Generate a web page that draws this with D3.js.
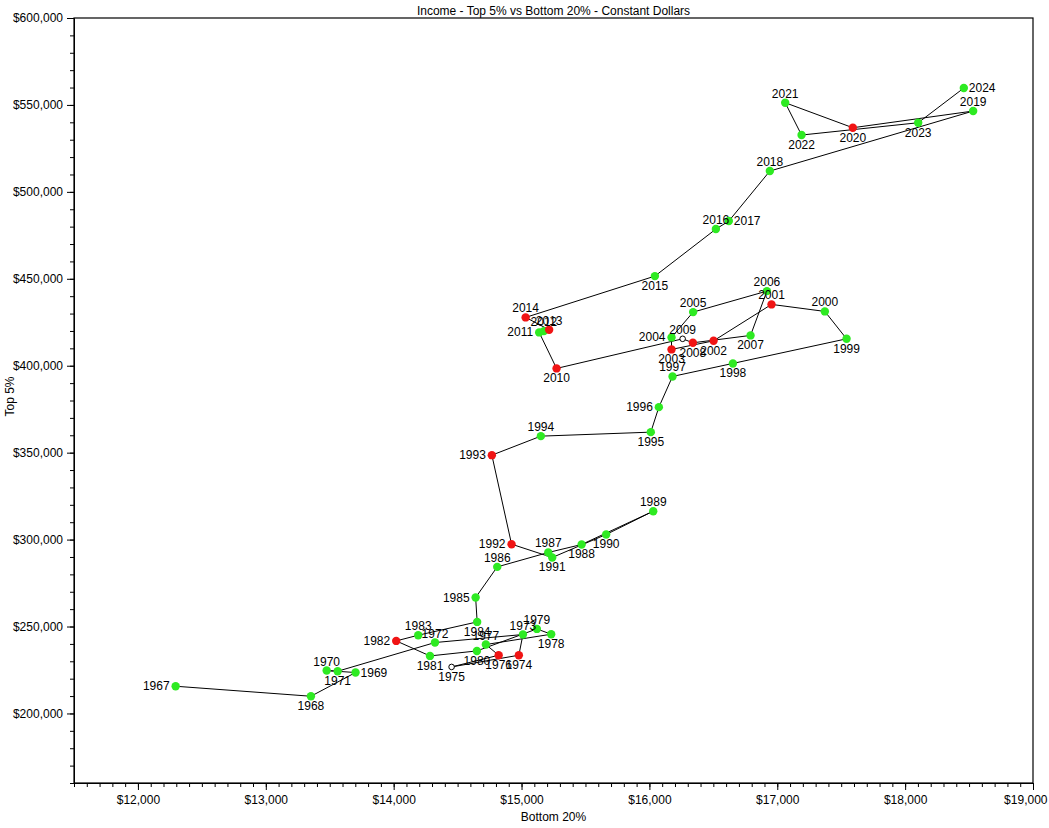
<!DOCTYPE html>
<html lang="en">
<head>
    <meta charset="UTF-8">
    <title>Income - Top 5% vs Bottom 20%</title>
    <script src="https://d3js.org/d3.v7.min.js"></script>
    <style>
        body {
            margin: 0;
            background: #fff;
            font-family: "Liberation Sans", Arial, Helvetica, sans-serif;
        }
        svg text {
            font-family: "Liberation Sans", Arial, Helvetica, sans-serif;
            fill: #000;
        }
        .axis path, .axis line {
            stroke: #000;
        }
    </style>
</head>
<body>
<svg width="1049" height="828"></svg>

<script>
    // Data
    const years = d3.range(1967, 2025);

    const bottom20 = [
        12295, 13353, 13702, 13476, 13562, 14323, 15011, 14979, 14453, 14821,
        14721, 15232, 15120, 14651, 14284, 14020, 14192, 14653, 14641, 14810,
        15209, 15470, 16030, 15662, 15240, 14922, 14768, 15151, 16011, 16074,
        16181, 16653, 17542, 17372, 16955, 16502, 16173, 16173, 16342, 16919,
        16791, 16340, 16260, 15274, 15138, 15175, 15216, 15032, 16043, 16520,
        16621, 16942, 18532, 17591, 17062, 17190, 18102, 18459
    ];

    const top5 = [
        215650, 209900, 223530, 224670, 224280, 240790, 245400, 233490, 226760, 233490,
        239650, 245570, 248620, 235960, 233090, 241720, 245000, 252650, 266690, 284300,
        292580, 297180, 316340, 302940, 289700, 297360, 348560, 359500, 361800, 376180,
        393840, 401320, 415480, 431240, 435270, 414330, 409380, 416280, 430840, 442920,
        417430, 413180, 415480, 398450, 419160, 419910, 420660, 427790, 451550, 478600,
        483200, 511970, 546490, 536880, 551270, 532680, 539760, 559720
    ];

    // g = growth year, r = recession year, o = partial
    const marker = [
        "g", "g", "g", "g", "g", "g", "g", "r", "o", "r",
        "g", "g", "g", "g", "g", "r", "g", "g", "g", "g",
        "g", "g", "g", "g", "g", "r", "r", "g", "g", "g",
        "g", "g", "g", "g", "r", "r", "r", "g", "g", "g",
        "g", "r", "o", "r", "g", "g", "r", "r", "g", "g",
        "g", "g", "g", "r", "g", "g", "g", "g"
    ];

    // which side of the dot the year label sits on
    const labelSide = [
        "l", "b", "r", "t", "b", "t", "t", "b", "b", "b",
        "t", "b", "t", "b", "b", "l", "t", "b", "l", "t",
        "t", "b", "t", "b", "b", "l", "l", "t", "b", "l",
        "t", "b", "b", "t", "t", "b", "b", "l", "t", "t",
        "b", "b", "t", "b", "l", "t", "t", "t", "b", "t",
        "r", "t", "t", "b", "t", "b", "b", "r"
    ];

    const xTicks = [12000, 13000, 14000, 15000, 16000, 17000, 18000, 19000];
    const yTicks = [200000, 250000, 300000, 350000, 400000, 450000, 500000, 550000, 600000];

    const data = years.map((y, i) => ({
        year: y,
        x: bottom20[i],
        y: top5[i],
        m: marker[i],
        side: labelSide[i]
    }));

    const svgWidth = 1049;
    const svgHeight = 828;
    const margin = {top: 18, right: 16, bottom: 45, left: 74};
    const width = svgWidth - margin.left - margin.right;
    const height = svgHeight - margin.top - margin.bottom;

    const svg = d3.select("svg");
    const g = svg.append("g")
        .attr("transform", `translate(${margin.left}, ${margin.top})`);

    const xScale = d3.scaleLinear().domain([11500, 19000]).range([0, width]);
    const yScale = d3.scaleLinear().domain([160000, 600000]).range([height, 0]);

    const fmt = d => "$" + d3.format(",")(d);

    // minor ticks
    g.append("g")
        .attr("class", "axis")
        .attr("transform", `translate(0, ${height})`)
        .call(d3.axisBottom(xScale).tickValues(d3.range(11500, 19001, 100))
            .tickSize(4).tickSizeOuter(0).tickFormat(""));
    g.append("g")
        .attr("class", "axis")
        .call(d3.axisLeft(yScale).tickValues(d3.range(160000, 600001, 10000))
            .tickSize(4).tickSizeOuter(0).tickFormat(""));

    // major ticks
    g.append("g")
        .attr("class", "axis")
        .attr("transform", `translate(0, ${height})`)
        .call(d3.axisBottom(xScale).tickValues(xTicks)
            .tickSize(7).tickSizeOuter(0).tickPadding(5).tickFormat(fmt))
        .call(a => a.selectAll("text").style("font-size", "12px"))
        // keep the last label inside the page
        .call(a => a.selectAll("text").filter(d => d === xTicks[xTicks.length - 1])
            .attr("text-anchor", "end").attr("dx", 14));
    g.append("g")
        .attr("class", "axis")
        .call(d3.axisLeft(yScale).tickValues(yTicks)
            .tickSize(7).tickSizeOuter(0).tickPadding(4).tickFormat(fmt))
        .call(a => a.selectAll("text").style("font-size", "12px"));

    // frame
    g.append("rect")
        .attr("width", width)
        .attr("height", height)
        .attr("fill", "none")
        .attr("stroke", "#000")
        .attr("stroke-width", 1.2);

    // path through the years
    const line = d3.line()
        .x(d => xScale(d.x))
        .y(d => yScale(d.y));

    g.append("path")
        .datum(data)
        .attr("d", line)
        .attr("fill", "none")
        .attr("stroke", "#000")
        .attr("stroke-width", 1);

    // dots
    g.selectAll("circle")
        .data(data)
        .enter()
        .append("circle")
        .attr("cx", d => xScale(d.x))
        .attr("cy", d => yScale(d.y))
        .attr("r", d => d.m === "o" ? 2.8 : 4.2)
        .attr("fill", d => d.m === "r" ? "#f01414" : d.m === "o" ? "#fff" : "#2eea22")
        .attr("stroke", d => d.m === "o" ? "#000" : "none")
        .attr("stroke-width", 1);

    // year labels
    g.selectAll(".yr")
        .data(data)
        .enter()
        .append("text")
        .attr("class", "yr")
        .style("font-size", "12px")
        .attr("x", d => xScale(d.x) + (d.side === "l" ? -6 : d.side === "r" ? 5 : 0))
        .attr("y", d => yScale(d.y) + (d.side === "t" ? -5 : d.side === "b" ? 14 : 4))
        .attr("text-anchor", d => d.side === "l" ? "end" : d.side === "r" ? "start" : "middle")
        .text(d => d.year);

    // titles
    svg.append("text")
        .attr("x", margin.left + width / 2)
        .attr("y", 15)
        .attr("text-anchor", "middle")
        .style("font-size", "12px")
        .text("Income - Top 5% vs Bottom 20% - Constant Dollars");

    svg.append("text")
        .attr("x", margin.left + width / 2)
        .attr("y", 821)
        .attr("text-anchor", "middle")
        .style("font-size", "12px")
        .text("Bottom 20%");

    svg.append("text")
        .attr("transform", `translate(14, ${margin.top + height / 2 - 4}) rotate(-90)`)
        .attr("text-anchor", "middle")
        .style("font-size", "12px")
        .text("Top 5%");
</script>
</body>
</html>
